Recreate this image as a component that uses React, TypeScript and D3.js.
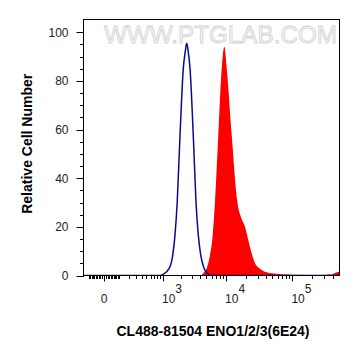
import { useEffect, useRef } from "react";
import * as d3 from "d3";

// control (isotype) histogram: fluorescence intensity vs relative count
const controlIntensity = [-149, 880, 1010, 1280, 1460, 1590, 1730, 1920, 2170, 2330, 2460, 2600, 2770, 3120, 3440, 3740, 4080, 4590, 5340, 6000, 500000];
const controlCount = [0, 0, 0.5, 3.0, 8.4, 16.6, 30.3, 57.7, 85.2, 92, 95.4, 92, 85.2, 57.7, 30.3, 16.6, 8.4, 3.0, 0.5, 0, 0];

// stained sample histogram
const sampleIntensity = [-149, 3970, 4500, 5050, 5680, 6250, 6770, 7610, 8580, 9400, 10230, 12180, 14820, 16800, 19350, 21700, 24400, 27400, 34500, 48800, 97600, 259000, 400000, 435000, 500000];
const sampleCount = [0, 0, 1.0, 3.0, 8.4, 16.6, 30.3, 57.7, 85.2, 94.0, 85.2, 57.7, 30.3, 24, 20, 14.6, 9.1, 5, 2.3, 0.9, 0.3, 0.2, 0.5, 1.0, 1.5];

const yMajorTicks = [0, 20, 40, 60, 80, 100];
const yMinorTicks = [5, 10, 15, 25, 30, 35, 45, 50, 55, 65, 70, 75, 85, 90, 95];
const xMajorTicks = [0, 1000, 10000, 100000];
const xMinorTicks = [
	-100, -90, -80, -70, -60, -50, -40, -30, -20, -10,
	10, 20, 30, 40, 50, 60, 70, 80, 90, 100,
	200, 300, 400, 500, 600, 700, 800, 900,
	2000, 3000, 4000, 5000, 6000, 7000, 8000, 9000,
	20000, 30000, 40000, 50000, 60000, 70000, 80000, 90000,
	200000, 300000, 400000
];

const xTitle = "CL488-81504 ENO1/2/3(6E24)";
const yTitle = "Relative Cell Number";
const watermark = "WWW.PTGLAB.COM";

interface Point {
	intensity: number;
	count: number;
}

const toPoints = (xs: number[], ys: number[]): Point[] => xs.map((v, i) => ({ intensity: v, count: ys[i] }));

export default function App() {
	const containerRef = useRef<HTMLDivElement>(null);

	useEffect(() => {
		if (!containerRef.current) {
			return;
		}
		const width = 361;
		const height = 356;
		const plot = { left: 84, right: 339, top: 20, bottom: 275.5 };

		const svg = d3
			.select(containerRef.current)
			.append("svg")
			.attr("width", width)
			.attr("height", height)
			.style("position", "absolute")
			.style("left", 0)
			.style("top", 0)
			.style("background", "#fff")
			.attr("font-family", "'Liberation Sans', Arial, sans-serif");

		const x = d3.scaleSymlog().constant(150).domain([-149, 500000]).range([plot.left, plot.right]);
		const y = d3.scaleLinear().domain([0, 105]).range([plot.bottom, plot.top]);

		svg
			.append("defs")
			.append("clipPath")
			.attr("id", "plot-clip")
			.append("rect")
			.attr("x", plot.left)
			.attr("y", plot.top)
			.attr("width", plot.right - plot.left)
			.attr("height", plot.bottom - plot.top);

		// watermark
		svg
			.append("text")
			.attr("x", 104)
			.attr("y", 43)
			.attr("font-size", 24)
			.attr("textLength", 233)
			.attr("lengthAdjust", "spacingAndGlyphs")
			.attr("fill", "#f6f6f6")
			.attr("stroke", "#d2d2d2")
			.attr("stroke-width", 0.8)
			.text(watermark);

		const content = svg.append("g").attr("clip-path", "url(#plot-clip)");

		const area = d3
			.area<Point>()
			.x((d) => x(d.intensity))
			.y0(y(0))
			.y1((d) => y(d.count))
			.curve(d3.curveMonotoneX);

		content
			.append("path")
			.datum(toPoints(sampleIntensity, sampleCount))
			.attr("fill", "#ff0000")
			.attr("d", area);

		const line = d3
			.line<Point>()
			.x((d) => x(d.intensity))
			.y((d) => y(d.count))
			.curve(d3.curveMonotoneX);

		content
			.append("path")
			.datum(toPoints(controlIntensity, controlCount))
			.attr("fill", "none")
			.attr("stroke", "#0a0a8c")
			.attr("stroke-width", 1.5)
			.attr("d", line);

		// frame
		svg
			.append("rect")
			.attr("x", plot.left - 0.5)
			.attr("y", plot.top - 0.5)
			.attr("width", plot.right - plot.left + 1)
			.attr("height", plot.bottom - plot.top + 0.5)
			.attr("fill", "none")
			.attr("stroke", "#000")
			.attr("stroke-width", 1);

		// y ticks
		const yAxis = svg.append("g").attr("stroke", "#000").attr("stroke-width", 1);
		yAxis
			.selectAll("line.major")
			.data(yMajorTicks)
			.join("line")
			.attr("class", "major")
			.attr("x1", plot.left - 7.5)
			.attr("x2", plot.left)
			.attr("y1", (d) => Math.round(y(d)) + 0.5)
			.attr("y2", (d) => Math.round(y(d)) + 0.5);
		yAxis
			.selectAll("line.minor")
			.data(yMinorTicks)
			.join("line")
			.attr("class", "minor")
			.attr("x1", plot.left - 4)
			.attr("x2", plot.left)
			.attr("y1", (d) => Math.round(y(d)) + 0.5)
			.attr("y2", (d) => Math.round(y(d)) + 0.5);

		svg
			.append("g")
			.selectAll("text")
			.data(yMajorTicks)
			.join("text")
			.attr("x", 68.5)
			.attr("y", (d) => y(d) + 4.5)
			.attr("text-anchor", "end")
			.attr("font-size", 12)
			.attr("fill", "#222")
			.text((d) => `${d}`);

		// x ticks
		const xAxis = svg.append("g").attr("stroke", "#000").attr("stroke-width", 1);
		xAxis
			.selectAll("line.major")
			.data(xMajorTicks)
			.join("line")
			.attr("class", "major")
			.attr("x1", (d) => Math.round(x(d)) + 0.5)
			.attr("x2", (d) => Math.round(x(d)) + 0.5)
			.attr("y1", plot.bottom)
			.attr("y2", plot.bottom + 6);
		xAxis
			.selectAll("line.minor")
			.data(xMinorTicks)
			.join("line")
			.attr("class", "minor")
			.attr("x1", (d) => Math.round(x(d)) + 0.5)
			.attr("x2", (d) => Math.round(x(d)) + 0.5)
			.attr("y1", plot.bottom)
			.attr("y2", plot.bottom + 3.5);

		const xLabels = svg
			.append("g")
			.attr("font-size", 12)
			.attr("fill", "#222")
			.selectAll("text")
			.data(xMajorTicks)
			.join("text")
			.attr("x", (d) => (d === 0 ? x(d) : x(d) - 1))
			.attr("y", 302.5)
			.attr("text-anchor", (d) => (d === 0 ? "middle" : "start"));
		xLabels.each(function (d) {
			const t = d3.select(this);
			if (d === 0) {
				t.text("0");
				return;
			}
			t.append("tspan").text("10");
			t.append("tspan").attr("dy", -10).text(`${Math.round(Math.log10(d))}`);
		});

		// titles
		svg
			.append("text")
			.attr("x", 213)
			.attr("y", 336)
			.attr("text-anchor", "middle")
			.attr("font-size", 14)
			.attr("font-weight", "bold")
			.attr("fill", "#000")
			.text(xTitle);

		svg
			.append("text")
			.attr("transform", `translate(32,${(plot.top + plot.bottom) / 2 - 4}) rotate(-90)`)
			.attr("text-anchor", "middle")
			.attr("font-size", 14)
			.attr("font-weight", "bold")
			.attr("fill", "#000")
			.text(yTitle);

		return () => {
			svg.remove();
		};
	}, []);

	return <div ref={containerRef} />;
}
